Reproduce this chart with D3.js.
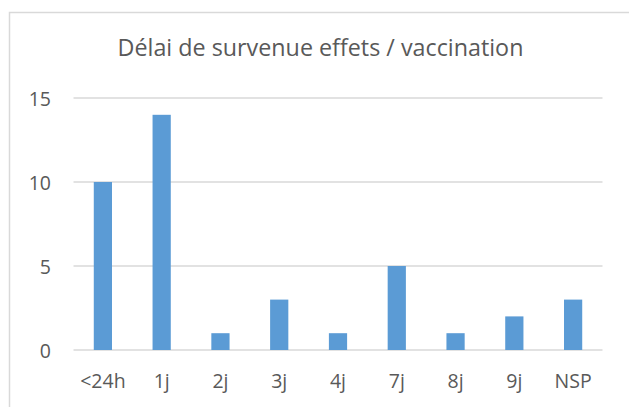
<!DOCTYPE html>
<html>
<head>
<meta charset="utf-8">
<script src="https://cdn.jsdelivr.net/npm/d3@7"></script>
<style>
  html, body { margin: 0; padding: 0; background: #fff; }
  svg { display: block; }
</style>
</head>
<body>
<svg id="chart" width="629" height="407"></svg>
<script>
const title = "Délai de survenue effets / vaccination";
const categories = ["<24h", "1j", "2j", "3j", "4j", "7j", "8j", "9j", "NSP"];
const values = [10, 14, 1, 3, 1, 5, 1, 2, 3];
const yTicks = [0, 5, 10, 15];

const svg = d3.select("#chart");
const font = "'Open Sans', sans-serif";
const textColor = "#595959";

// outer chart border (extends beyond the window on right/bottom)
svg.append("rect")
  .attr("x", 9.5).attr("y", 12.5)
  .attr("width", 640).attr("height", 420)
  .attr("fill", "#fff")
  .attr("stroke", "#d9d9d9").attr("stroke-width", 1.5);

const x = d3.scaleBand().domain(categories).range([73.5, 602.5]).paddingInner(0.69).paddingOuter(0.345);
const y = d3.scaleLinear().domain([0, 15]).range([350, 98]);

// gridlines
svg.append("g").selectAll("line").data(yTicks).join("line")
  .attr("x1", 73.5).attr("x2", 602.5)
  .attr("y1", d => y(d)).attr("y2", d => y(d))
  .attr("stroke", "#d9d9d9").attr("stroke-width", 1.3);

// bars
svg.append("g").selectAll("rect").data(values).join("rect")
  .attr("x", (d, i) => x(categories[i]))
  .attr("width", x.bandwidth())
  .attr("y", d => y(d))
  .attr("height", d => y(0) - y(d))
  .attr("fill", "#5b9bd5");

// y axis labels
const yAxis = d3.axisLeft(y).tickValues(yTicks).tickSize(0).tickPadding(0);
const gy = svg.append("g").attr("transform", "translate(51,0)").call(yAxis);
gy.select(".domain").remove();
gy.selectAll("text")
  .attr("font-family", font).attr("font-size", 19.5)
  .attr("fill", textColor).attr("dy", "0.36em");

// x axis labels
const xAxis = d3.axisBottom(x).tickSize(0).tickPadding(0);
const gx = svg.append("g").attr("transform", "translate(0,374)").call(xAxis);
gx.select(".domain").remove();
gx.selectAll("text")
  .attr("font-family", font).attr("font-size", 19.5)
  .attr("fill", textColor).attr("dy", "0.71em");

// title
svg.append("text")
  .attr("x", 320.5).attr("y", 56)
  .attr("text-anchor", "middle")
  .attr("font-family", font).attr("font-size", 23.3)
  .attr("fill", textColor)
  .text(title);
</script>
</body>
</html>
